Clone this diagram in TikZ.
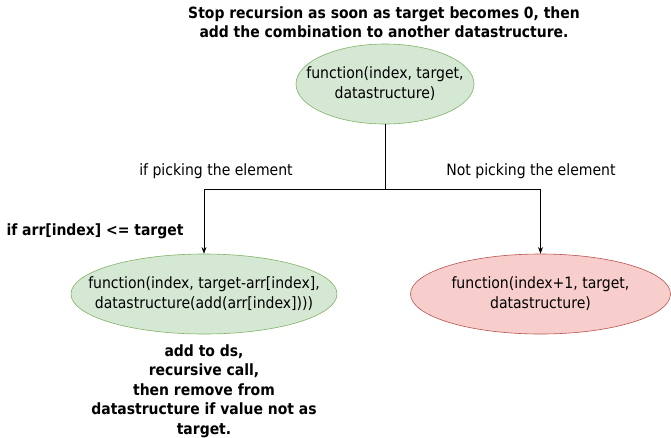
\documentclass[tikz,border=0pt]{standalone}
\usepackage{fontspec}
\setmainfont{DejaVu Sans Condensed}
\usepackage{tikz}
\usetikzlibrary{positioning, shapes.geometric, arrows.meta}

\definecolor{okfill}{HTML}{D5E8D4}
\definecolor{okline}{HTML}{82B366}
\definecolor{nofill}{HTML}{F8CECC}
\definecolor{noline}{HTML}{B85450}

\begin{document}
\begin{tikzpicture}[x=1pt, y=-1pt, >=Stealth, font=\fontsize{15.6}{20}\selectfont]
	\tikzstyle{call}=[ellipse, draw, line width=0.6pt, inner sep=0pt, minimum height=80]
	\tikzstyle{note}=[align=center, inner sep=0pt]
	\tikzstyle{bold}=[note, font=\fontsize{15.5}{19.5}\selectfont\bfseries]
	\useasboundingbox (0,0) rectangle (671,437);
	\node[bold](stop) at (384,22) {Stop recursion as soon as target becomes 0, then\\add the combination to another datastructure.};
	\node[call, fill=okfill, draw=okline, minimum width=178](f0) at (385,84) {};
	\node[note](t0) at (f0) {function(index, target,\\datastructure)};
	\coordinate (s) at (385,189);
	\node[call, fill=okfill, draw=okline, minimum width=266](f1) at (204,294) {};
	\node[note](t1) at (f1) {function(index, target-arr[index],\\datastructure(add(arr[index])))};
	\node[call, fill=nofill, draw=noline, minimum width=260](f2) at (540.5,294) {};
	\node[note](t2) at (f2) {function(index+1, target,\\datastructure)};
	\node[note](l1) at (216,171) {if picking the element};
	\node[note](l2) at (531,171) {Not picking the element};
	\node[bold](c1) at (95,231) {if arr[index] <= target};
	\node[bold](n1) at (204,391) {add to ds,\\recursive call,\\then remove from\\datastructure if value not as\\target.};
	\draw[line width=0.8pt](f0) -- (s);
	\draw[->, line width=0.8pt](s) -| (f1);
	\draw[->, line width=0.8pt](s) -| (f2);
\end{tikzpicture}
\end{document}
